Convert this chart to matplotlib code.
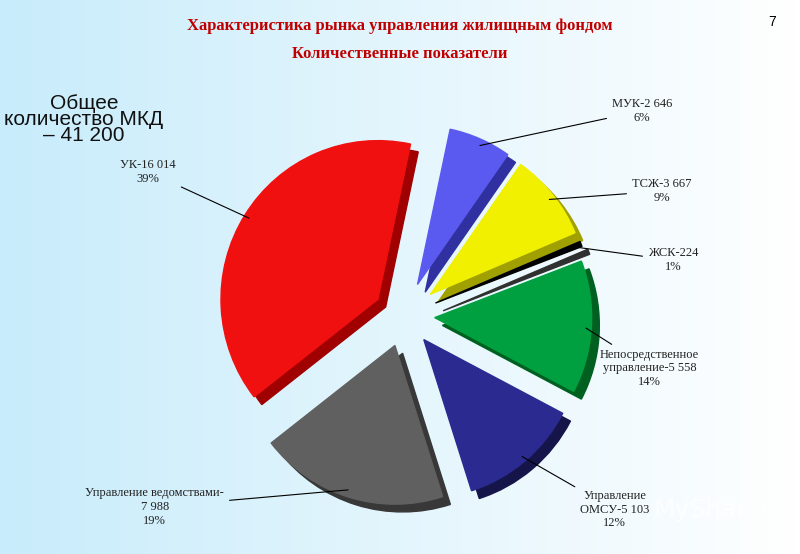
import numpy as np
import matplotlib.pyplot as plt
from matplotlib.patches import Wedge

labels = ["МУК-2 646\n6%", "ТСЖ-3 667\n9%", "ЖСК-224\n1%",
          "Непосредственное\nуправление-5 558\n14%", "Управление\nОМСУ-5 103\n12%",
          "Управление ведомствами-\n7 988\n19%", "УК-16 014\n39%"]
values = [2646, 3667, 224, 5558, 5103, 7988, 16014]
colors = ["#5a5af0", "#f0f000", "#000000", "#00a040", "#2a2a90", "#606060", "#f01010"]
shadow = ["#3030a0", "#a0a000", "#303030", "#006020", "#15154a", "#383838", "#a00000"]
explode = [0.22, 0.22, 0.22, 0.2, 0.2, 0.2, 0.2]
label_pos = [(0.765, 0.80), (0.79, 0.655), (0.81, 0.53), (0.75, 0.335), (0.725, 0.08), (0.28, 0.085), (0.22, 0.69)]
label_ha = ["left", "left", "left", "left", "left", "right", "right"]

fig = plt.figure(figsize=(8, 5.54), dpi=100)
bg = fig.add_axes([0, 0, 1, 1])
grad = np.linspace(0, 1, 256)[None, :]
bg.imshow(grad, cmap=plt.matplotlib.colors.LinearSegmentedColormap.from_list("g", ["#c8ecfb", "#ffffff"]),
          aspect="auto", extent=[0, 1, 0, 1])
bg.set_axis_off()

fig.text(0.5, 0.953, "Характеристика рынка управления жилищным фондом", ha="center", va="center",
         color="#c00000", fontsize=12, fontweight="bold", family="Liberation Serif")
fig.text(0.5, 0.903, "Количественные показатели", ha="center", va="center",
         color="#c00000", fontsize=12, fontweight="bold", family="Liberation Serif")
fig.text(0.965, 0.96, "7", ha="center", va="center", fontsize=10, family="Liberation Sans")
fig.text(0.105, 0.785, "Общее\nколичество МКД\n– 41 200", ha="center", va="center", fontsize=15,
         linespacing=0.8, family="Liberation Sans", color="#111111")
fig.text(0.895, 0.08, "MyShared", ha="center", va="center", fontsize=18, color="white", alpha=0.8)

ax = fig.add_axes([0.255, 0.065, 0.5, 0.73])
ax.set_xlim(-1.3, 1.3)
ax.set_ylim(-1.3, 1.3)
ax.set_axis_off()

total = sum(values)
angle = 78.0
for i, v in enumerate(values):
    span = 360 * v / total
    t1, t2 = angle - span, angle
    mid = np.deg2rad((t1 + t2) / 2)
    cx, cy = explode[i] * np.cos(mid), explode[i] * np.sin(mid)
    ax.add_patch(Wedge((cx + 0.05, cy - 0.05), 1.02, t1, t2, color=shadow[i]))
    ax.add_patch(Wedge((cx, cy), 1.02, t1, t2, color=colors[i]))
    ex, ey = cx + 0.97 * np.cos(mid), cy + 0.97 * np.sin(mid)
    ax.annotate(labels[i], xy=(ex, ey), xytext=label_pos[i], textcoords="figure fraction",
                ha=label_ha[i], va="center", fontsize=9, family="Liberation Serif", color="#222222",
                multialignment="center",
                arrowprops=dict(arrowstyle="-", color="black", lw=0.8))
    angle = t1

fig.savefig("out.png", dpi=100)
